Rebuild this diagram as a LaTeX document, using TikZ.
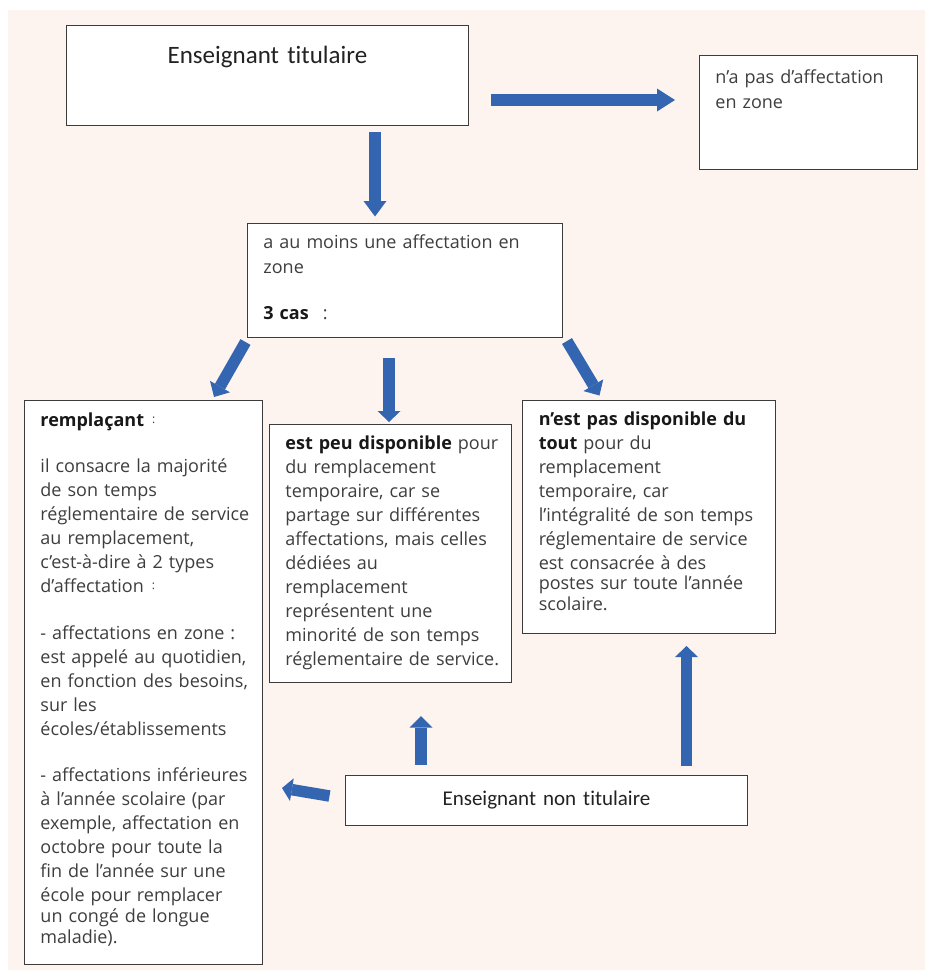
\documentclass[tikz,border=0pt]{standalone}
\usepackage{fontspec}
\setmainfont{Open Sans}
\newfontfamily\titlefont[Ligatures=NoCommon]{Carlito}
\usetikzlibrary{arrows.meta}
\definecolor{peach}{RGB}{254,244,239}
\definecolor{arrowblue}{RGB}{52,101,176}
\definecolor{boxline}{RGB}{60,60,60}
\definecolor{bodytext}{RGB}{62,62,62}
\definecolor{boldtext}{RGB}{24,24,24}
\definecolor{titletext}{RGB}{34,34,34}
\newcommand{\fort}[1]{{\color{boldtext}\bfseries #1}}
\newcommand{\hicol}{\hspace{8pt}\raisebox{3pt}{\fontsize{12}{12}\selectfont :}}

\begin{document}
\begin{tikzpicture}[
  x=1pt, y=-1pt,
  box/.style={draw=boxline, line width=0.9pt, fill=white, anchor=north west,
    inner xsep=6pt, inner ysep=0pt, align=left, text=bodytext,
    font=\fontsize{18}{24}\selectfont,
    execute at begin node={\leftskip=10pt\relax}},
  titlebox/.style={draw=boxline, line width=0.9pt, fill=white, anchor=north west,
    inner sep=0pt, align=center, text=titletext},
  blk/.style={draw=arrowblue, line width=11.5pt, line cap=butt,
    -{Triangle[length=#1, width=23pt, line width=0pt]}},
  blk/.default=12pt
]
\fill[peach] (8,10) rectangle (925,970);
\useasboundingbox (0,0) rectangle (925,970);

\node[titlebox, text width=402pt, text height=38pt, text depth=62pt,
  font=\titlefont\fontsize{25}{30}\selectfont] (tit) at (66,25) {Enseignant titulaire};
\node[box, text width=206pt, text height=28.3pt, text depth=85.7pt,
  font=\fontsize{18}{25}\selectfont] (hors) at (699,55) {n’a pas d’affectation\\en zone};
\node[box, text width=303pt, text height=25.3pt, text depth=88.7pt,
  font=\fontsize{18}{25}\selectfont] (zone) at (247,223)
  {a au moins une affectation en\\zone\\[21pt]\fort{3 cas}\hspace{14pt}:};

\node[box, text width=226pt, text height=25.7pt, text depth=538.3pt] (remp) at (24,400)
  {\fort{remplaçant}\hicol\\[22pt]
   il consacre la majorité\\
   de son temps\\
   réglementaire de service\\
   au remplacement,\\
   c’est-à-dire à 2 types\\
   d’affectation\hicol\\[23pt]
   - affectations en zone :\\
   est appelé au quotidien,\\
   en fonction des besoins,\\
   sur les\\
   écoles/établissements\\[22pt]
   - affectations inférieures\\
   à l’année scolaire (par\\
   exemple, affectation en\\
   octobre pour toute la\\
   fin de l’année sur une\\
   école pour remplacer\\[-3pt]
   un congé de longue\\[-3pt]
   maladie).};
\node[box, text width=229.5pt, text height=25.3pt, text depth=232.2pt] (peu) at (269,424)
  {\fort{est peu disponible} pour\\
   du remplacement\\
   temporaire, car se\\
   partage sur différentes\\
   affectations, mais celles\\
   dédiées au\\
   remplacement\\
   représentent une\\
   minorité de son temps\\
   réglementaire de service.};
\node[box, text width=240.7pt, text height=25pt, text depth=207.7pt] (pasdu) at (522.3,400)
  {\fort{n’est pas disponible du}\\
   \fort{tout} pour du\\
   remplacement\\
   temporaire, car\\
   l’intégralité de son temps\\
   réglementaire de service\\
   est consacrée à des\\[-4pt]
   postes sur toute l’année\\[-3pt]
   scolaire.};
\node[titlebox, text width=402pt, text height=30pt, text depth=20pt,
  font=\titlefont\fontsize{21}{25}\selectfont] (nontit) at (345,775) {Enseignant non titulaire};

\coordinate (titE) at (491,100);
\coordinate (horsW) at (675,100);
\coordinate (titS) at (375,131.5);
\coordinate (zoneN) at (375,216.5);
\coordinate (zoneSW) at (245.5,342);
\coordinate (rempN) at (214,397);
\coordinate (zoneS) at (389,358);
\coordinate (peuN) at (389,422);
\coordinate (zoneSE) at (567,341);
\coordinate (pasduN) at (599.5,395.5);
\coordinate (nontitA) at (421,764.5);
\coordinate (peuS) at (421,716);
\coordinate (nontitB) at (686.5,765.5);
\coordinate (pasduS) at (686.5,646);
\coordinate (nontitW) at (329.5,796);
\coordinate (rempE) at (282,788);

\draw[blk=18pt] (titE) -- (horsW);
\draw[blk=15.5pt] (titS) -- (zoneN);
\draw[blk] (zoneSW) -- (rempN);
\draw[blk=11pt] (zoneS) -- (peuN);
\draw[blk] (zoneSE) -- (pasduN);
\draw[blk=11.5pt] (nontitA) -- (peuS);
\draw[blk=11pt] (nontitB) -- (pasduS);
\draw[blk=10pt] (nontitW) -- (rempE);
\end{tikzpicture}
\end{document}
